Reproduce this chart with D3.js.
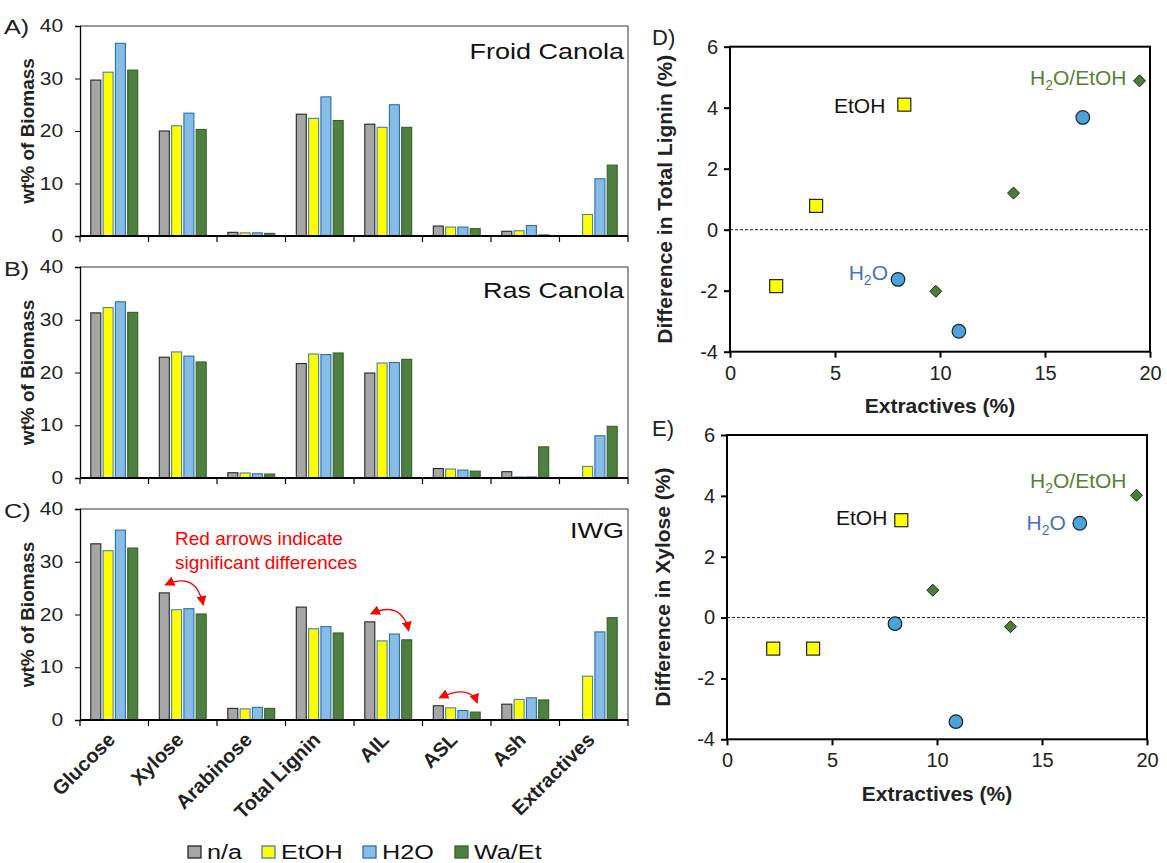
<!DOCTYPE html>
<html><head><meta charset="utf-8">
<script src="https://cdn.jsdelivr.net/npm/d3@7"></script>
<style>body{margin:0;background:#fff} svg{display:block;font-family:"Liberation Sans",Arial,sans-serif}</style>
</head><body><svg id="c" width="1167" height="863"></svg>
<script>
// ---------- data ----------
const categories = ["Glucose","Xylose","Arabinose","Total Lignin","AIL","ASL","Ash","Extractives"];
const seriesNames = ["n/a","EtOH","H2O","Wa/Et"];
const barTicks = [0,10,20,30,40];

const froidNA   = [29.7,20.0,0.7,23.2,21.3,1.9,0.9,0];
const froidEtOH = [31.2,21.0,0.6,22.4,20.7,1.7,1.0,4.1];
const froidH2O  = [36.7,23.4,0.6,26.5,25.0,1.7,2.0,10.9];
const froidWaEt = [31.6,20.3,0.5,22.0,20.7,1.4,0.2,13.5];

const rasNA   = [31.3,22.9,1.0,21.7,19.9,1.8,1.2,0];
const rasEtOH = [32.3,23.9,0.95,23.5,21.8,1.7,0.2,2.2];
const rasH2O  = [33.4,23.1,0.8,23.4,21.9,1.5,0.2,8.0];
const rasWaEt = [31.4,22.0,0.75,23.7,22.5,1.3,5.9,9.8];

const iwgNA   = [33.4,24.1,2.2,21.4,18.6,2.7,3.0,0];
const iwgEtOH = [32.1,20.9,2.1,17.3,15.0,2.3,3.9,8.3];
const iwgH2O  = [36.0,21.1,2.4,17.7,16.3,1.8,4.2,16.7];
const iwgWaEt = [32.6,20.1,2.2,16.5,15.2,1.5,3.8,19.4];

const arrowCategories = ["Xylose","AIL","ASL"];

// scatter D: Difference in Total Lignin vs Extractives
const ligEtOHx = [2.2,4.1,8.3],   ligEtOHy = [-1.85,0.78,4.1];
const ligH2Ox  = [8.0,10.9,16.8], ligH2Oy  = [-1.63,-3.33,3.68];
const ligWaEtx = [9.8,13.5,19.5], ligWaEty = [-2.02,1.2,4.88];
// scatter E: Difference in Xylose vs Extractives
const xylEtOHx = [2.2,4.1,8.3],   xylEtOHy = [-1.02,-1.02,3.2];
const xylH2Ox  = [8.0,10.9,16.8], xylH2Oy  = [-0.2,-3.42,3.1];
const xylWaEtx = [9.8,13.5,19.5], xylWaEty = [0.9,-0.3,4.02];
const scatterXTicks = [0,5,10,15,20];
const scatterYTicks = [-4,-2,0,2,4,6];

// ---------- styles ----------
const barFill   = {"n/a":"#a6a6a6","EtOH":"#ffff00","H2O":"#85bde6","Wa/Et":"#4e8040"};
const barStroke = {"n/a":"#262626","EtOH":"#4a7eb0","H2O":"#2f6ea6","Wa/Et":"#37602b"};
const SX = 1.2; // horizontal stretch of the bar-chart texts

const svg = d3.select("#c");

// ---------- bar panels ----------
const bx = d3.scaleBand().domain(categories).range([80,628]).padding(0);
const bs = d3.scaleBand().domain(seriesNames).range([0,bx.bandwidth()]).paddingInner(0.187).paddingOuter(0.878);

const panels = [
  {lab:"A)", title:"Froid Canola", data:[froidNA,froidEtOH,froidH2O,froidWaEt], top:26, bottom:236, labY:34, titleY:59},
  {lab:"B)", title:"Ras Canola",   data:[rasNA,rasEtOH,rasH2O,rasWaEt],         top:267, bottom:478, labY:276, titleY:298},
  {lab:"C)", title:"IWG",          data:[iwgNA,iwgEtOH,iwgH2O,iwgWaEt],         top:509, bottom:720, labY:518, titleY:538}
];

const defs = svg.append("defs");
defs.append("marker").attr("id","ah").attr("viewBox","0 0 10 10").attr("refX",9).attr("refY",5)
  .attr("markerWidth",10).attr("markerHeight",10).attr("markerUnits","userSpaceOnUse")
  .attr("orient","auto-start-reverse")
  .append("path").attr("d","M0,0 L10,5 L0,10 Z").attr("fill","#ff0000");

panels.forEach((p,pi)=>{
  const y = d3.scaleLinear().domain([0,40]).range([p.bottom,p.top]);
  const g = svg.append("g");
  g.append("path").attr("d",`M80,${p.top}H628V${p.bottom}`).attr("fill","none").attr("stroke","#333").attr("stroke-width",1);
  seriesNames.forEach((s,si)=>{
    const vals = p.data[si];
    g.selectAll(null).data(categories.map((c,i)=>({c,v:vals[i]})).filter(d=>d.v>0)).join("rect")
      .attr("x",d=>bx(d.c)+bs(s)).attr("width",bs.bandwidth())
      .attr("y",d=>y(d.v)).attr("height",d=>y(0)-y(d.v))
      .attr("fill",barFill[s]).attr("stroke",barStroke[s]).attr("stroke-width",1.1);
  });
  const ya = g.append("g").attr("transform","translate(80,0)")
    .call(d3.axisLeft(y).tickValues(barTicks).tickSize(5).tickPadding(9).tickFormat(d=>String(d)));
  ya.select(".domain").attr("stroke","#000").attr("stroke-width",1.3);
  ya.selectAll("text").attr("font-size",17.5).attr("fill","#222").attr("font-family","Liberation Sans,Arial,sans-serif")
    .attr("transform",`scale(${SX},1)`);
  const xa = g.append("g").attr("transform",`translate(0,${p.bottom})`);
  xa.append("line").attr("x1",80).attr("x2",628).attr("stroke","#000").attr("stroke-width",2);
  const bounds = categories.map(c=>bx(c)).concat([bx.range()[1]]);
  xa.selectAll(null).data(bounds).join("line").attr("x1",d=>d).attr("x2",d=>d).attr("y1",0).attr("y2",6)
    .attr("stroke","#000").attr("stroke-width",1.2);
  g.append("text").attr("transform",`translate(34,${(p.top+p.bottom)/2}) rotate(-90)`)
    .attr("text-anchor","middle").attr("font-weight","bold").attr("font-size",19).attr("fill","#222").text("wt% of Biomass");
  g.append("text").attr("transform",`translate(4,${p.labY}) scale(${SX},1)`).attr("font-size",21).attr("fill","#222").text(p.lab);
  g.append("text").attr("transform",`translate(624,${p.titleY}) scale(${SX},1)`).attr("text-anchor","end")
    .attr("font-size",22.5).attr("fill","#111").text(p.title);

  if(pi===2){
    g.append("text").attr("x",175).attr("y",545).attr("font-size",19).attr("fill","#ff0000").text("Red arrows indicate");
    g.append("text").attr("x",175).attr("y",569).attr("font-size",19).attr("fill","#ff0000").text("significant differences");
    arrowCategories.forEach(c=>{
      const i = categories.indexOf(c);
      const x0 = bx(c)+bs("n/a")+bs.bandwidth()/2+1, y0 = y(p.data[0][i])-8;
      const x1 = bx(c)+bs("Wa/Et")+bs.bandwidth()/2+2, y1 = y(p.data[3][i])-9;
      const cx = x1-0.18*(x1-x0), cy = Math.min(y0,y1)-14;
      g.append("path").attr("d",`M${x0},${y0} Q${cx},${cy} ${x1},${y1}`)
        .attr("fill","none").attr("stroke","#ff0000").attr("stroke-width",1.3)
        .attr("marker-start","url(#ah)").attr("marker-end","url(#ah)");
    });
  }
});

// category labels
svg.append("g").selectAll("text").data(categories).join("text")
  .attr("transform",c=>`translate(${bx(c)+bx.bandwidth()/2+2},741) rotate(-45)`)
  .attr("text-anchor","end").attr("font-weight","bold").attr("font-size",20).attr("fill","#222").text(c=>c);

// legend
const legX = [188,262,363,455];
const lg = svg.append("g");
seriesNames.forEach((s,i)=>{
  lg.append("rect").attr("x",legX[i]).attr("y",846).attr("width",13).attr("height",12)
    .attr("fill",barFill[s]).attr("stroke",barStroke[s]).attr("stroke-width",1.3);
  lg.append("text").attr("transform",`translate(${legX[i]+19},858.5) scale(${SX},1)`)
    .attr("font-size",21).attr("fill","#111").text(s);
});

// ---------- scatter panels ----------
function scatter(cfg){
  const x = d3.scaleLinear().domain([0,20]).range([cfg.left,cfg.right]);
  const y = d3.scaleLinear().domain([-4,6]).range([cfg.bottom,cfg.top]);
  const g = svg.append("g");
  g.append("rect").attr("x",cfg.left).attr("y",cfg.top).attr("width",cfg.right-cfg.left).attr("height",cfg.bottom-cfg.top)
    .attr("fill","none").attr("stroke","#000").attr("stroke-width",2);
  g.append("line").attr("x1",cfg.left).attr("x2",cfg.right).attr("y1",y(0)).attr("y2",y(0))
    .attr("stroke","#000").attr("stroke-width",0.9).attr("stroke-dasharray","3,2");
  const ya = g.append("g").attr("transform",`translate(${cfg.left},0)`)
    .call(d3.axisLeft(y).tickValues(scatterYTicks).tickSize(6).tickPadding(6).tickFormat(d=>String(d)));
  ya.select(".domain").remove();
  ya.selectAll("line").attr("stroke","#000").attr("stroke-width",2);
  ya.selectAll("text").attr("font-size",20).attr("fill","#222").attr("font-family","Liberation Sans,Arial,sans-serif");
  const xa = g.append("g").attr("transform",`translate(0,${cfg.bottom})`)
    .call(d3.axisBottom(x).tickValues(scatterXTicks).tickSize(6).tickPadding(8).tickFormat(d=>String(d)));
  xa.select(".domain").remove();
  xa.selectAll("line").attr("stroke","#000").attr("stroke-width",2);
  xa.selectAll("text").attr("font-size",20).attr("fill","#222").attr("font-family","Liberation Sans,Arial,sans-serif");
  g.append("text").attr("x",(cfg.left+cfg.right)/2).attr("y",cfg.xLabY).attr("text-anchor","middle")
    .attr("font-weight","bold").attr("font-size",21).attr("fill","#222").text("Extractives (%)");
  g.append("text").attr("transform",`translate(${cfg.yLabX},${(cfg.top+cfg.bottom)/2}) rotate(-90)`)
    .attr("text-anchor","middle").attr("font-weight","bold").attr("font-size",21).attr("fill","#222").text(cfg.ytitle);
  g.append("text").attr("x",652).attr("y",cfg.letY).attr("font-size",22).attr("fill","#222").text(cfg.letter);

  g.selectAll(null).data(cfg.sq[0].map((v,i)=>[v,cfg.sq[1][i]])).join("rect")
    .attr("x",d=>x(d[0])-6.5).attr("y",d=>y(d[1])-6.5).attr("width",13).attr("height",13)
    .attr("fill","#ffff00").attr("stroke","#222").attr("stroke-width",1.2);
  g.selectAll(null).data(cfg.ci[0].map((v,i)=>[v,cfg.ci[1][i]])).join("circle")
    .attr("cx",d=>x(d[0])).attr("cy",d=>y(d[1])).attr("r",6.8)
    .attr("fill","#4aa3dc").attr("stroke","#222").attr("stroke-width",1.2);
  g.selectAll(null).data(cfg.di[0].map((v,i)=>[v,cfg.di[1][i]])).join("path")
    .attr("d",d=>`M${x(d[0])},${y(d[1])-6}L${x(d[0])+6},${y(d[1])}L${x(d[0])},${y(d[1])+6}L${x(d[0])-6},${y(d[1])}Z`)
    .attr("fill","#4a7d35").attr("stroke","#222").attr("stroke-width",1);

  const L = cfg.labels;
  g.append("text").attr("x",x(cfg.sq[0][2])+L.et[0]).attr("y",y(cfg.sq[1][2])+L.et[1]).attr("text-anchor","end")
    .attr("font-size",21).attr("fill","#111").text("EtOH");
  const h = g.append("text").attr("x",x(cfg.ci[0][L.h2oIdx])+L.h2o[0]).attr("y",y(cfg.ci[1][L.h2oIdx])+L.h2o[1]).attr("text-anchor","end")
    .attr("font-size",21).attr("fill","#4472c4");
  h.append("tspan").text("H");
  h.append("tspan").attr("font-size",14).attr("dy",5).text("2");
  h.append("tspan").attr("dy",-5).text("O");
  const w = g.append("text").attr("x",x(cfg.di[0][2])+L.we[0]).attr("y",y(cfg.di[1][2])+L.we[1]).attr("text-anchor","end")
    .attr("font-size",21).attr("fill","#548235");
  w.append("tspan").text("H");
  w.append("tspan").attr("font-size",14).attr("dy",5).text("2");
  w.append("tspan").attr("dy",-5).text("O/EtOH");
}

scatter({left:730,right:1150,top:46.7,bottom:351.7,xLabY:413,yLabX:672,letY:45,letter:"D)",
  ytitle:"Difference in Total Lignin (%)",
  sq:[ligEtOHx,ligEtOHy],ci:[ligH2Ox,ligH2Oy],di:[ligWaEtx,ligWaEty],
  labels:{et:[-19,8],h2oIdx:0,h2o:[-10,1],we:[-13,4]}});
scatter({left:727,right:1147,top:435,bottom:739.3,xLabY:801,yLabX:670,letY:436,letter:"E)",
  ytitle:"Difference in Xylose (%)",
  sq:[xylEtOHx,xylEtOHy],ci:[xylH2Ox,xylH2Oy],di:[xylWaEtx,xylWaEty],
  labels:{et:[-14,5],h2oIdx:2,h2o:[-14,7],we:[-10,-7]}});
</script></body></html>
